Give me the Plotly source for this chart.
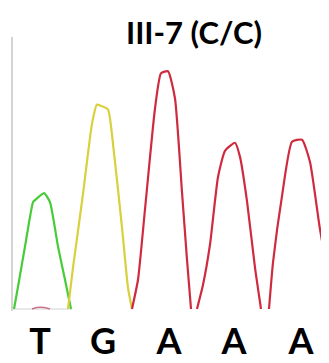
import plotly.graph_objects as go

# Base calls and their positions along the trace (scan index)
base_pos = [40, 103, 169, 234, 301]
base_calls = ["T", "G", "A", "A", "A"]

# Chromatogram signal (scan index, intensity)
t_x = [14, 18, 25, 33, 35, 44, 50, 58, 65, 71]
t_y = [0, 22, 62, 106, 108, 115, 106, 62, 29, 0]

g_x = [68, 73, 83, 92, 97, 100, 108, 113, 122, 128, 132]
g_y = [0, 41, 114, 184, 203, 202, 198, 164, 81, 21, 0]

a1_x = [132, 138, 145, 155, 161, 168, 175, 182, 187, 191]
a1_y = [0, 29, 99, 199, 234, 236, 209, 116, 49, 0]

a2_x = [197, 203, 210, 218, 225, 235, 240, 247, 255, 261]
a2_y = [0, 24, 64, 131, 157, 165, 151, 107, 41, 0]

a3_x = [269, 273, 282, 292, 302, 310, 320, 329]
a3_y = [0, 46, 112, 166, 168, 146, 79, 30]

bg_x = [32, 37, 44, 50]
bg_y = [0, 1.5, 1.5, 0]

base_x = [13, 72]
base_y = [0, 0]

GREEN = "#45cc38"
YELLOW = "#d8d03c"
RED = "#cf2b3f"

# the page body adds an 8px offset; the figure is sized to fit the window
W, H, OFF = 321, 355, 8

fig = go.Figure()
fig.add_trace(go.Scatter(x=base_x, y=base_y, mode="lines",
                         line=dict(color="#e2e2e2", width=1.5)))
fig.add_trace(go.Scatter(x=bg_x, y=bg_y, mode="lines",
                         line=dict(color="#c9738a", width=1.5, shape="spline")))
for xs, ys, c in [(t_x, t_y, GREEN), (g_x, g_y, YELLOW), (a1_x, a1_y, RED),
                  (a2_x, a2_y, RED), (a3_x, a3_y, RED)]:
    fig.add_trace(go.Scatter(x=xs, y=ys, mode="lines",
                             line=dict(color=c, width=2.2, shape="spline", smoothing=0.5)))

fig.update_layout(
    width=W, height=H,
    margin=dict(l=13 - OFF, r=0, t=37 - OFF, b=OFF + H - 311, autoexpand=False),
    paper_bgcolor="white", plot_bgcolor="white",
    showlegend=False,
    title=dict(text="<b>III-7 (C/C)</b>", x=(194 - 13) / 316, xref="paper", xanchor="center",
               y=1 - (33 - OFF) / H, yref="container", yanchor="middle",
               font=dict(family="Lato", size=31, color="black")),
    xaxis=dict(range=[13, 329], showgrid=False, zeroline=False, showline=False,
               automargin=False,
               ticks="", tickvals=base_pos, ticktext=base_calls, ticklabelstandoff=6,
               tickfont=dict(family="Lato", size=36, color="black", weight="bold")),
    yaxis=dict(range=[-2, 270], showgrid=False, zeroline=False, showline=True,
               automargin=False,
               linecolor="#d4d4d4", linewidth=1.5, ticks="", showticklabels=False),
)

fig.write_html("out.html")
